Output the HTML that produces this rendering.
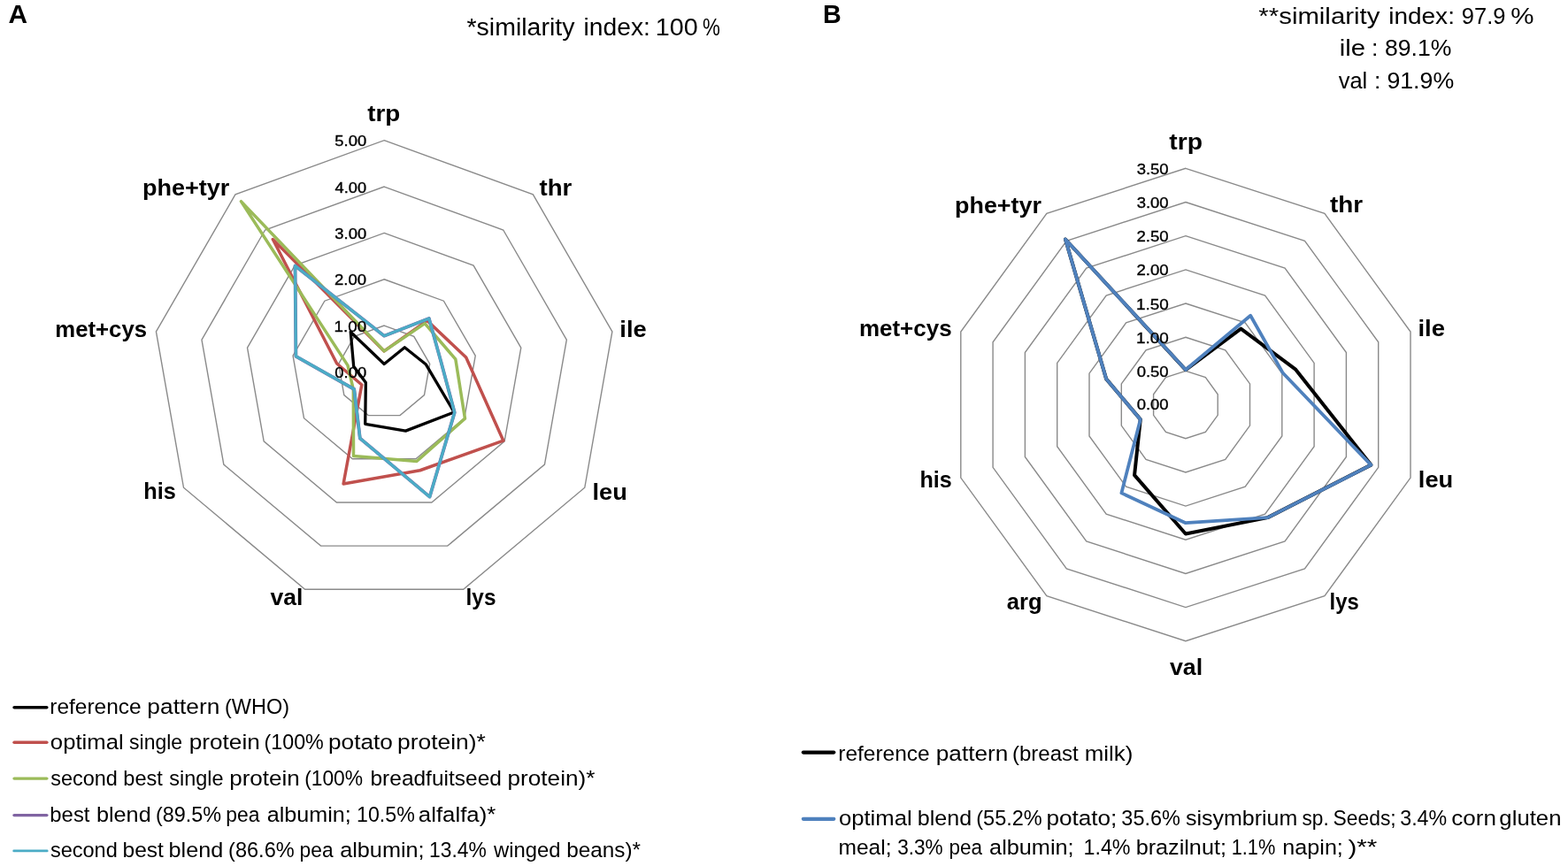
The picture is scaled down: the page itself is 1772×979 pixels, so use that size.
<!DOCTYPE html>
<html><head><meta charset="utf-8"><title>Amino acid radar charts</title>
<style>
html,body{margin:0;padding:0;background:#fff;}
svg{display:block;}
text{font-family:"Liberation Sans",Arial,sans-serif;white-space:pre;}
</style></head>
<body>
<svg width="1772" height="979" viewBox="0 0 1772 979">
<rect x="0" y="0" width="1772" height="979" fill="#ffffff"/>
<polygon points="434.15,368.06 467.79,380.31 485.69,411.31 479.48,446.57 452.05,469.58 416.25,469.58 388.82,446.57 382.61,411.31 400.51,380.31" fill="none" stroke="#8a8a8a" stroke-width="1.4"/>
<polygon points="434.15,315.72 501.44,340.21 537.24,402.22 524.81,472.74 469.95,518.77 398.35,518.77 343.49,472.74 331.06,402.22 366.86,340.21" fill="none" stroke="#8a8a8a" stroke-width="1.4"/>
<polygon points="434.15,263.38 535.08,300.12 588.78,393.13 570.13,498.91 487.85,567.95 380.45,567.95 298.17,498.91 279.52,393.13 333.22,300.12" fill="none" stroke="#8a8a8a" stroke-width="1.4"/>
<polygon points="434.15,211.04 568.72,260.02 640.33,384.05 615.46,525.08 505.76,617.13 362.54,617.13 252.84,525.08 227.97,384.05 299.58,260.02" fill="none" stroke="#8a8a8a" stroke-width="1.4"/>
<polygon points="434.15,158.70 602.37,219.93 691.87,374.96 660.79,551.25 523.66,666.32 344.64,666.32 207.51,551.25 176.43,374.96 265.93,219.93" fill="none" stroke="#8a8a8a" stroke-width="1.4"/>
<polygon points="1339.90,419.38 1362.34,426.67 1376.20,445.75 1376.20,469.35 1362.34,488.43 1339.90,495.72 1317.46,488.43 1303.60,469.35 1303.60,445.75 1317.46,426.67" fill="none" stroke="#8a8a8a" stroke-width="1.4"/>
<polygon points="1339.90,381.21 1384.77,395.79 1412.50,433.96 1412.50,481.14 1384.77,519.31 1339.90,533.89 1295.03,519.31 1267.30,481.14 1267.30,433.96 1295.03,395.79" fill="none" stroke="#8a8a8a" stroke-width="1.4"/>
<polygon points="1339.90,343.04 1407.21,364.91 1448.81,422.16 1448.81,492.94 1407.21,550.19 1339.90,572.06 1272.59,550.19 1230.99,492.94 1230.99,422.16 1272.59,364.91" fill="none" stroke="#8a8a8a" stroke-width="1.4"/>
<polygon points="1339.90,304.87 1429.64,334.03 1485.11,410.37 1485.11,504.73 1429.64,581.07 1339.90,610.23 1250.16,581.07 1194.69,504.73 1194.69,410.37 1250.16,334.03" fill="none" stroke="#8a8a8a" stroke-width="1.4"/>
<polygon points="1339.90,266.70 1452.08,303.15 1521.41,398.57 1521.41,516.53 1452.08,611.95 1339.90,648.40 1227.72,611.95 1158.39,516.53 1158.39,398.57 1227.72,303.15" fill="none" stroke="#8a8a8a" stroke-width="1.4"/>
<polygon points="1339.90,228.53 1474.51,272.27 1557.71,386.78 1557.71,528.32 1474.51,642.83 1339.90,686.57 1205.29,642.83 1122.09,528.32 1122.09,386.78 1205.29,272.27" fill="none" stroke="#8a8a8a" stroke-width="1.4"/>
<polygon points="1339.90,190.36 1496.95,241.39 1594.01,374.98 1594.01,540.12 1496.95,673.71 1339.90,724.74 1182.85,673.71 1085.79,540.12 1085.79,374.98 1182.85,241.39" fill="none" stroke="#8a8a8a" stroke-width="1.4"/>
<polygon points="434.15,411.53 457.30,392.81 481.44,412.06 513.26,466.07 458.43,487.11 412.73,479.26 413.35,432.41 399.71,414.33 396.23,375.21" fill="none" stroke="#000000" stroke-width="3.3" stroke-linejoin="round"/>
<polygon points="434.15,396.91 482.80,362.42 526.68,404.08 568.87,498.18 474.68,531.75 388.09,546.95 408.83,435.02 380.69,410.97 308.32,270.45" fill="none" stroke="#C0504D" stroke-width="3.5" stroke-linejoin="round"/>
<polygon points="434.15,396.91 480.12,365.62 514.86,406.17 525.47,473.12 470.93,521.45 399.51,515.56 399.34,440.50 393.02,413.15 272.42,227.66" fill="none" stroke="#9BBB59" stroke-width="3.5" stroke-linejoin="round"/>
<polygon points="434.15,379.68 484.82,360.02 498.41,409.07 513.71,466.34 485.57,561.67 406.83,495.45 400.25,439.98 334.42,402.81 333.49,300.44" fill="none" stroke="#8064A2" stroke-width="3.8" stroke-linejoin="round"/>
<polygon points="434.15,379.68 484.82,360.02 498.41,409.07 513.71,466.34 485.57,561.67 406.83,495.45 400.25,439.98 334.42,402.81 333.49,300.44" fill="none" stroke="#4BACC6" stroke-width="3.3" stroke-linejoin="round"/>
<polygon points="1339.90,418.08 1402.36,371.58 1463.83,417.28 1549.36,525.61 1432.60,585.15 1339.90,603.51 1282.06,537.16 1288.79,474.16 1250.16,428.39 1203.98,270.48" fill="none" stroke="#000000" stroke-width="4.0" stroke-linejoin="round"/>
<polygon points="1339.90,418.08 1413.18,356.70 1449.89,421.81 1549.36,525.61 1432.60,585.15 1339.90,591.22 1267.39,557.35 1288.79,474.16 1250.16,428.39 1203.98,270.48" fill="none" stroke="#4F81BD" stroke-width="3.8" stroke-linejoin="round"/>
<line x1="16.10" y1="799.7" x2="52.80" y2="799.7" stroke="#000000" stroke-width="3.6" stroke-linecap="round"/>
<line x1="16.00" y1="839.3" x2="52.90" y2="839.3" stroke="#C0504D" stroke-width="3.4" stroke-linecap="round"/>
<line x1="16.00" y1="880.1" x2="52.90" y2="880.1" stroke="#9BBB59" stroke-width="3.4" stroke-linecap="round"/>
<line x1="16.00" y1="921.6" x2="52.90" y2="921.6" stroke="#8064A2" stroke-width="3.4" stroke-linecap="round"/>
<line x1="15.60" y1="961.9" x2="53.30" y2="961.9" stroke="#4BACC6" stroke-width="2.6" stroke-linecap="round"/>
<line x1="907.8" y1="850.6" x2="942.3" y2="850.6" stroke="#000000" stroke-width="4.2" stroke-linecap="round"/>
<line x1="907.8" y1="925.8" x2="942.3" y2="925.8" stroke="#4F81BD" stroke-width="4.2" stroke-linecap="round"/>
<text x="9.45" y="26.40" font-size="30" font-weight="bold" textLength="21.56" lengthAdjust="spacingAndGlyphs" fill="#000">A</text>
<text x="929.94" y="26.40" font-size="30" font-weight="bold" textLength="20.72" lengthAdjust="spacingAndGlyphs" fill="#000">B</text>
<text x="527.47" y="39.60" font-size="27" font-weight="normal" textLength="121.97" lengthAdjust="spacingAndGlyphs" fill="#000">*similarity</text>
<text x="659.57" y="39.60" font-size="27" font-weight="normal" textLength="75.27" lengthAdjust="spacingAndGlyphs" fill="#000">index:</text>
<text x="740.84" y="39.60" font-size="27" font-weight="normal" textLength="47.96" lengthAdjust="spacingAndGlyphs" fill="#000">100</text>
<text x="793.92" y="39.60" font-size="27" font-weight="normal" textLength="19.84" lengthAdjust="spacingAndGlyphs" fill="#000">%</text>
<text x="1422.36" y="26.50" font-size="26.5" font-weight="normal" textLength="137.00" lengthAdjust="spacingAndGlyphs" fill="#000">**similarity</text>
<text x="1569.18" y="26.50" font-size="26.5" font-weight="normal" textLength="74.74" lengthAdjust="spacingAndGlyphs" fill="#000">index:</text>
<text x="1651.85" y="26.50" font-size="26.5" font-weight="normal" textLength="49.63" lengthAdjust="spacingAndGlyphs" fill="#000">97.9</text>
<text x="1707.27" y="26.50" font-size="26.5" font-weight="normal" textLength="26.24" lengthAdjust="spacingAndGlyphs" fill="#000">%</text>
<text x="1513.70" y="63.40" font-size="26.5" font-weight="normal" textLength="29.23" lengthAdjust="spacingAndGlyphs" fill="#000">ile</text>
<text x="1553.75" y="63.40" font-size="26.5" font-weight="normal" text-anchor="middle" fill="#000">:</text>
<text x="1565.00" y="63.40" font-size="26.5" font-weight="normal" textLength="75.34" lengthAdjust="spacingAndGlyphs" fill="#000">89.1%</text>
<text x="1512.67" y="99.90" font-size="26.5" font-weight="normal" textLength="32.57" lengthAdjust="spacingAndGlyphs" fill="#000">val</text>
<text x="1556.65" y="99.90" font-size="26.5" font-weight="normal" text-anchor="middle" fill="#000">:</text>
<text x="1567.40" y="99.90" font-size="26.5" font-weight="normal" textLength="75.75" lengthAdjust="spacingAndGlyphs" fill="#000">91.9%</text>
<text x="415.22" y="137.20" font-size="26.5" font-weight="bold" textLength="37.08" lengthAdjust="spacingAndGlyphs" fill="#000">trp</text>
<text x="609.52" y="220.60" font-size="26.5" font-weight="bold" textLength="36.84" lengthAdjust="spacingAndGlyphs" fill="#000">thr</text>
<text x="700.38" y="380.90" font-size="26.5" font-weight="bold" textLength="30.42" lengthAdjust="spacingAndGlyphs" fill="#000">ile</text>
<text x="669.50" y="565.20" font-size="26.5" font-weight="bold" textLength="39.26" lengthAdjust="spacingAndGlyphs" fill="#000">leu</text>
<text x="526.59" y="683.60" font-size="26.5" font-weight="bold" textLength="33.89" lengthAdjust="spacingAndGlyphs" fill="#000">lys</text>
<text x="305.47" y="683.80" font-size="26.5" font-weight="bold" textLength="36.89" lengthAdjust="spacingAndGlyphs" fill="#000">val</text>
<text x="162.23" y="564.30" font-size="26.5" font-weight="bold" textLength="36.58" lengthAdjust="spacingAndGlyphs" fill="#000">his</text>
<text x="62.33" y="380.80" font-size="26.5" font-weight="bold" textLength="103.72" lengthAdjust="spacingAndGlyphs" fill="#000">met+cys</text>
<text x="160.94" y="220.50" font-size="26.5" font-weight="bold" textLength="98.37" lengthAdjust="spacingAndGlyphs" fill="#000">phe+tyr</text>
<text x="1321.22" y="168.60" font-size="26.5" font-weight="bold" textLength="37.70" lengthAdjust="spacingAndGlyphs" fill="#000">trp</text>
<text x="1502.92" y="240.30" font-size="26.5" font-weight="bold" textLength="37.14" lengthAdjust="spacingAndGlyphs" fill="#000">thr</text>
<text x="1602.48" y="380.30" font-size="26.5" font-weight="bold" textLength="30.53" lengthAdjust="spacingAndGlyphs" fill="#000">ile</text>
<text x="1602.89" y="551.00" font-size="26.5" font-weight="bold" textLength="39.37" lengthAdjust="spacingAndGlyphs" fill="#000">leu</text>
<text x="1502.53" y="688.90" font-size="26.5" font-weight="bold" textLength="33.12" lengthAdjust="spacingAndGlyphs" fill="#000">lys</text>
<text x="1321.97" y="763.40" font-size="26.5" font-weight="bold" textLength="37.21" lengthAdjust="spacingAndGlyphs" fill="#000">val</text>
<text x="1137.83" y="689.40" font-size="26.5" font-weight="bold" textLength="39.76" lengthAdjust="spacingAndGlyphs" fill="#000">arg</text>
<text x="1039.54" y="551.00" font-size="26.5" font-weight="bold" textLength="36.26" lengthAdjust="spacingAndGlyphs" fill="#000">his</text>
<text x="970.91" y="379.60" font-size="26.5" font-weight="bold" textLength="104.75" lengthAdjust="spacingAndGlyphs" fill="#000">met+cys</text>
<text x="1079.05" y="240.60" font-size="26.5" font-weight="bold" textLength="97.86" lengthAdjust="spacingAndGlyphs" fill="#000">phe+tyr</text>
<text x="378.26" y="165.30" font-size="17.4" font-weight="normal" textLength="35.91" lengthAdjust="spacingAndGlyphs" fill="#000" stroke="#000" stroke-width="0.35">5.00</text>
<text x="378.63" y="217.64" font-size="17.4" font-weight="normal" textLength="35.53" lengthAdjust="spacingAndGlyphs" fill="#000" stroke="#000" stroke-width="0.35">4.00</text>
<text x="378.26" y="269.98" font-size="17.4" font-weight="normal" textLength="35.91" lengthAdjust="spacingAndGlyphs" fill="#000" stroke="#000" stroke-width="0.35">3.00</text>
<text x="378.07" y="322.32" font-size="17.4" font-weight="normal" textLength="36.10" lengthAdjust="spacingAndGlyphs" fill="#000" stroke="#000" stroke-width="0.35">2.00</text>
<text x="377.59" y="374.66" font-size="17.4" font-weight="normal" textLength="36.59" lengthAdjust="spacingAndGlyphs" fill="#000" stroke="#000" stroke-width="0.35">1.00</text>
<text x="378.26" y="427.00" font-size="17.4" font-weight="normal" textLength="35.91" lengthAdjust="spacingAndGlyphs" fill="#000" stroke="#000" stroke-width="0.35">0.00</text>
<text x="1284.66" y="196.96" font-size="17.4" font-weight="normal" textLength="36.01" lengthAdjust="spacingAndGlyphs" fill="#000" stroke="#000" stroke-width="0.35">3.50</text>
<text x="1284.66" y="235.13" font-size="17.4" font-weight="normal" textLength="36.01" lengthAdjust="spacingAndGlyphs" fill="#000" stroke="#000" stroke-width="0.35">3.00</text>
<text x="1284.47" y="273.30" font-size="17.4" font-weight="normal" textLength="36.21" lengthAdjust="spacingAndGlyphs" fill="#000" stroke="#000" stroke-width="0.35">2.50</text>
<text x="1284.47" y="311.47" font-size="17.4" font-weight="normal" textLength="36.21" lengthAdjust="spacingAndGlyphs" fill="#000" stroke="#000" stroke-width="0.35">2.00</text>
<text x="1283.99" y="349.64" font-size="17.4" font-weight="normal" textLength="36.70" lengthAdjust="spacingAndGlyphs" fill="#000" stroke="#000" stroke-width="0.35">1.50</text>
<text x="1283.99" y="387.81" font-size="17.4" font-weight="normal" textLength="36.70" lengthAdjust="spacingAndGlyphs" fill="#000" stroke="#000" stroke-width="0.35">1.00</text>
<text x="1284.66" y="425.98" font-size="17.4" font-weight="normal" textLength="36.01" lengthAdjust="spacingAndGlyphs" fill="#000" stroke="#000" stroke-width="0.35">0.50</text>
<text x="1284.66" y="463.25" font-size="17.4" font-weight="normal" textLength="36.01" lengthAdjust="spacingAndGlyphs" fill="#000" stroke="#000" stroke-width="0.35">0.00</text>
<text x="56.31" y="807.10" font-size="24.5" font-weight="normal" textLength="103.39" lengthAdjust="spacingAndGlyphs" fill="#000">reference</text>
<text x="166.39" y="807.10" font-size="24.5" font-weight="normal" textLength="81.91" lengthAdjust="spacingAndGlyphs" fill="#000">pattern</text>
<text x="253.99" y="807.10" font-size="24.5" font-weight="normal" textLength="73.03" lengthAdjust="spacingAndGlyphs" fill="#000">(WHO)</text>
<text x="56.87" y="846.60" font-size="24.5" font-weight="normal" textLength="82.79" lengthAdjust="spacingAndGlyphs" fill="#000">optimal</text>
<text x="146.11" y="846.60" font-size="24.5" font-weight="normal" textLength="59.99" lengthAdjust="spacingAndGlyphs" fill="#000">single</text>
<text x="213.80" y="846.60" font-size="24.5" font-weight="normal" textLength="79.97" lengthAdjust="spacingAndGlyphs" fill="#000">protein</text>
<text x="298.50" y="846.60" font-size="24.5" font-weight="normal" textLength="67.33" lengthAdjust="spacingAndGlyphs" fill="#000">(100%</text>
<text x="371.00" y="846.60" font-size="24.5" font-weight="normal" textLength="72.86" lengthAdjust="spacingAndGlyphs" fill="#000">potato</text>
<text x="448.98" y="846.60" font-size="24.5" font-weight="normal" textLength="99.91" lengthAdjust="spacingAndGlyphs" fill="#000">protein)*</text>
<text x="57.20" y="887.90" font-size="24.5" font-weight="normal" textLength="75.72" lengthAdjust="spacingAndGlyphs" fill="#000">second</text>
<text x="139.27" y="887.90" font-size="24.5" font-weight="normal" textLength="44.57" lengthAdjust="spacingAndGlyphs" fill="#000">best</text>
<text x="191.30" y="887.90" font-size="24.5" font-weight="normal" textLength="61.33" lengthAdjust="spacingAndGlyphs" fill="#000">single</text>
<text x="259.21" y="887.90" font-size="24.5" font-weight="normal" textLength="79.66" lengthAdjust="spacingAndGlyphs" fill="#000">protein</text>
<text x="344.13" y="887.90" font-size="24.5" font-weight="normal" textLength="65.98" lengthAdjust="spacingAndGlyphs" fill="#000">(100%</text>
<text x="418.51" y="887.90" font-size="24.5" font-weight="normal" textLength="148.39" lengthAdjust="spacingAndGlyphs" fill="#000">breadfuitseed</text>
<text x="573.50" y="887.90" font-size="24.5" font-weight="normal" textLength="98.89" lengthAdjust="spacingAndGlyphs" fill="#000">protein)*</text>
<text x="56.35" y="929.00" font-size="24.5" font-weight="normal" textLength="45.09" lengthAdjust="spacingAndGlyphs" fill="#000">best</text>
<text x="108.96" y="929.00" font-size="24.5" font-weight="normal" textLength="61.73" lengthAdjust="spacingAndGlyphs" fill="#000">blend</text>
<text x="176.00" y="929.00" font-size="24.5" font-weight="normal" textLength="74.19" lengthAdjust="spacingAndGlyphs" fill="#000">(89.5%</text>
<text x="255.21" y="929.00" font-size="24.5" font-weight="normal" textLength="38.17" lengthAdjust="spacingAndGlyphs" fill="#000">pea</text>
<text x="301.69" y="929.00" font-size="24.5" font-weight="normal" textLength="95.07" lengthAdjust="spacingAndGlyphs" fill="#000">albumin;</text>
<text x="403.06" y="929.00" font-size="24.5" font-weight="normal" textLength="65.76" lengthAdjust="spacingAndGlyphs" fill="#000">10.5%</text>
<text x="472.87" y="929.00" font-size="24.5" font-weight="normal" textLength="87.44" lengthAdjust="spacingAndGlyphs" fill="#000">alfalfa)*</text>
<text x="56.89" y="969.10" font-size="24.5" font-weight="normal" textLength="75.93" lengthAdjust="spacingAndGlyphs" fill="#000">second</text>
<text x="138.51" y="969.10" font-size="24.5" font-weight="normal" textLength="46.34" lengthAdjust="spacingAndGlyphs" fill="#000">best</text>
<text x="190.56" y="969.10" font-size="24.5" font-weight="normal" textLength="61.73" lengthAdjust="spacingAndGlyphs" fill="#000">blend</text>
<text x="258.09" y="969.10" font-size="24.5" font-weight="normal" textLength="74.60" lengthAdjust="spacingAndGlyphs" fill="#000">(86.6%</text>
<text x="338.62" y="969.10" font-size="24.5" font-weight="normal" textLength="37.96" lengthAdjust="spacingAndGlyphs" fill="#000">pea</text>
<text x="384.19" y="969.10" font-size="24.5" font-weight="normal" textLength="95.38" lengthAdjust="spacingAndGlyphs" fill="#000">albumin;</text>
<text x="485.09" y="969.10" font-size="24.5" font-weight="normal" textLength="64.72" lengthAdjust="spacingAndGlyphs" fill="#000">13.4%</text>
<text x="557.90" y="969.10" font-size="24.5" font-weight="normal" textLength="75.63" lengthAdjust="spacingAndGlyphs" fill="#000">winged</text>
<text x="640.22" y="969.10" font-size="24.5" font-weight="normal" textLength="83.87" lengthAdjust="spacingAndGlyphs" fill="#000">beans)*</text>
<text x="947.31" y="859.50" font-size="24.5" font-weight="normal" textLength="103.39" lengthAdjust="spacingAndGlyphs" fill="#000">reference</text>
<text x="1057.80" y="859.50" font-size="24.5" font-weight="normal" textLength="81.49" lengthAdjust="spacingAndGlyphs" fill="#000">pattern</text>
<text x="1143.96" y="859.50" font-size="24.5" font-weight="normal" textLength="74.72" lengthAdjust="spacingAndGlyphs" fill="#000">(breast</text>
<text x="1225.72" y="859.50" font-size="24.5" font-weight="normal" textLength="54.68" lengthAdjust="spacingAndGlyphs" fill="#000">milk)</text>
<text x="947.97" y="933.00" font-size="24.5" font-weight="normal" textLength="82.69" lengthAdjust="spacingAndGlyphs" fill="#000">optimal</text>
<text x="1036.77" y="933.00" font-size="24.5" font-weight="normal" textLength="61.30" lengthAdjust="spacingAndGlyphs" fill="#000">blend</text>
<text x="1103.29" y="933.00" font-size="24.5" font-weight="normal" textLength="74.50" lengthAdjust="spacingAndGlyphs" fill="#000">(55.2%</text>
<text x="1182.40" y="933.00" font-size="24.5" font-weight="normal" textLength="79.90" lengthAdjust="spacingAndGlyphs" fill="#000">potato;</text>
<text x="1267.36" y="933.00" font-size="24.5" font-weight="normal" textLength="66.47" lengthAdjust="spacingAndGlyphs" fill="#000">35.6%</text>
<text x="1339.95" y="933.00" font-size="24.5" font-weight="normal" textLength="126.27" lengthAdjust="spacingAndGlyphs" fill="#000">sisymbrium</text>
<text x="1471.52" y="933.00" font-size="24.5" font-weight="normal" textLength="30.21" lengthAdjust="spacingAndGlyphs" fill="#000">sp.</text>
<text x="1506.57" y="933.00" font-size="24.5" font-weight="normal" textLength="71.15" lengthAdjust="spacingAndGlyphs" fill="#000">Seeds;</text>
<text x="1582.27" y="933.00" font-size="24.5" font-weight="normal" textLength="52.82" lengthAdjust="spacingAndGlyphs" fill="#000">3.4%</text>
<text x="1640.26" y="933.00" font-size="24.5" font-weight="normal" textLength="50.64" lengthAdjust="spacingAndGlyphs" fill="#000">corn</text>
<text x="1694.37" y="933.00" font-size="24.5" font-weight="normal" textLength="70.09" lengthAdjust="spacingAndGlyphs" fill="#000">gluten</text>
<text x="947.51" y="965.90" font-size="24.5" font-weight="normal" textLength="59.99" lengthAdjust="spacingAndGlyphs" fill="#000">meal;</text>
<text x="1014.20" y="965.90" font-size="24.5" font-weight="normal" textLength="51.48" lengthAdjust="spacingAndGlyphs" fill="#000">3.3%</text>
<text x="1072.54" y="965.90" font-size="24.5" font-weight="normal" textLength="37.54" lengthAdjust="spacingAndGlyphs" fill="#000">pea</text>
<text x="1118.09" y="965.90" font-size="24.5" font-weight="normal" textLength="95.48" lengthAdjust="spacingAndGlyphs" fill="#000">albumin;</text>
<text x="1224.56" y="965.90" font-size="24.5" font-weight="normal" textLength="52.94" lengthAdjust="spacingAndGlyphs" fill="#000">1.4%</text>
<text x="1283.66" y="965.90" font-size="24.5" font-weight="normal" textLength="102.25" lengthAdjust="spacingAndGlyphs" fill="#000">brazilnut;</text>
<text x="1391.67" y="965.90" font-size="24.5" font-weight="normal" textLength="49.58" lengthAdjust="spacingAndGlyphs" fill="#000">1.1%</text>
<text x="1449.37" y="965.90" font-size="24.5" font-weight="normal" textLength="68.49" lengthAdjust="spacingAndGlyphs" fill="#000">napin;</text>
<text x="1523.45" y="965.90" font-size="24.5" font-weight="normal" textLength="32.93" lengthAdjust="spacingAndGlyphs" fill="#000">)**</text>
</svg>
</body></html>
